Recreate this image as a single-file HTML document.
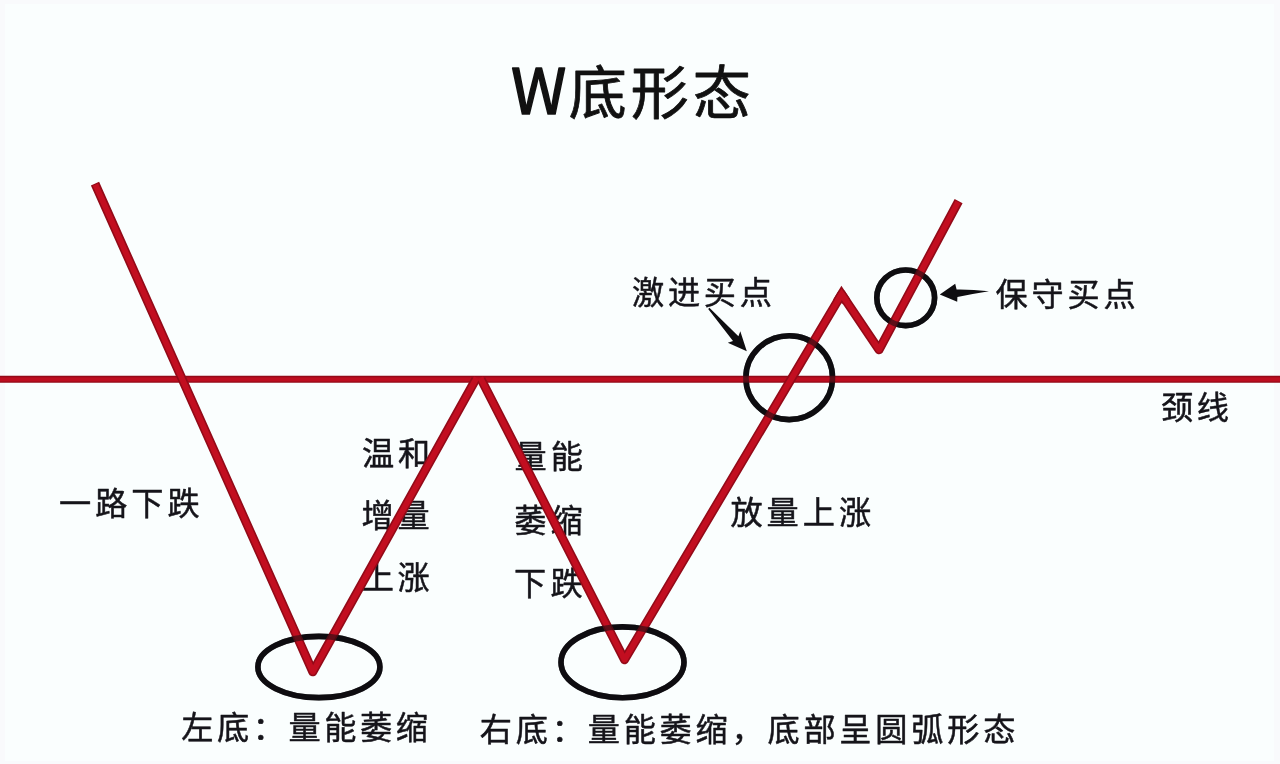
<!DOCTYPE html>
<html lang="zh-CN">
<head>
<meta charset="utf-8">
<title>W底形态</title>
<style>
html,body{margin:0;padding:0;background:#fafdfe;overflow:hidden;}
body{width:1280px;height:764px;position:relative;}
svg{position:absolute;left:0;top:0;display:block;filter:blur(0.55px);}
text{font-family:"Liberation Sans","Noto Sans CJK SC",sans-serif;fill:#15141a;}
.t{font-size:32.2px;letter-spacing:3.5px;stroke:#15141a;stroke-width:0.5px;stroke-linejoin:round;}
.title{font-family:"Noto Sans CJK SC","Liberation Sans",sans-serif;font-weight:400;font-size:58px;letter-spacing:4px;fill:#111;stroke:#111;stroke-width:0.8px;stroke-linejoin:round;}
.title .w{font-size:63px;letter-spacing:2.5px;stroke-width:1.5px;}
</style>
</head>
<body>
<svg width="1280" height="764" viewBox="0 0 1280 764">
  <rect x="-4" y="-4" width="1288" height="772" fill="#f9fafc"/>
  <rect x="5" y="4" width="1269" height="757" fill="#fafefe"/>

  <!-- labels (drawn beneath the red lines) -->
  <g id="labels">
    <text id="title" class="title" x="511" y="114.2"><tspan class="w">W</tspan>底形态</text>
    <text id="l1" class="t" x="59.00" y="515.20" style="letter-spacing:4.00px">一路下跌</text>
    <text id="l2a" class="t" x="362.10" y="465.40" style="letter-spacing:3.60px">温和</text>
    <text id="l2b" class="t" x="361.60" y="527.20" style="letter-spacing:3.60px">增量</text>
    <text id="l2c" class="t" x="361.80" y="589.40" style="letter-spacing:3.60px">上涨</text>
    <text id="l3a" class="t" x="514.40" y="468.00" style="letter-spacing:4.10px">量能</text>
    <text id="l3b" class="t" x="514.20" y="532.00" style="letter-spacing:4.10px">萎缩</text>
    <text id="l3c" class="t" x="514.10" y="595.40" style="letter-spacing:4.10px">下跌</text>
    <text id="l4" class="t" x="730.40" y="524.10" style="letter-spacing:3.99px">放量上涨</text>
    <text id="l5" class="t" x="632.00" y="304.43" style="letter-spacing:3.74px">激进买点</text>
    <text id="l6" class="t" x="995.50" y="306.12" style="letter-spacing:3.83px">保守买点</text>
    <text id="l7" class="t" x="1161.00" y="419.00" style="letter-spacing:3.50px">颈线</text>
    <text id="l8" class="t" x="181.20" y="739.00" style="letter-spacing:3.56px">左底：量能萎缩</text>
    <text id="l9" class="t" x="479.80" y="740.70" style="letter-spacing:3.77px">右底：量能萎缩，底部呈圆弧形态</text>
  </g>

  <!-- ellipses / circles -->
  <g id="rings" fill="none" stroke="#0e0d10" stroke-width="5.6">
    <ellipse cx="318.9" cy="667" rx="61" ry="30.6"/>
    <ellipse cx="622.5" cy="662.3" rx="61.5" ry="35.4"/>
    <ellipse cx="789.2" cy="377.7" rx="43.3" ry="41.9"/>
    <ellipse cx="905.7" cy="297.8" rx="28.9" ry="27.8"/>
  </g>

  <!-- neckline -->
  <g id="neck">
    <line x1="0" y1="379.3" x2="1280" y2="379.3" stroke="#930a18" stroke-width="7"/>
    <line x1="0" y1="379.3" x2="1280" y2="379.3" stroke="#bd0d1f" stroke-width="4.2"/>
  </g>

  <!-- W price path -->
  <g id="wline" fill="none" stroke-linecap="butt" stroke-linejoin="round">
    <g stroke="#930a18" stroke-width="9">
      <polyline points="95,183.7 312.8,671.8 475.8,379.3"/>
      <polyline points="481.1,379.3 624.5,659.7 841.6,294.2 879,349.8 958.6,201.1"/>
      <polyline points="837.0,301.9 841.6,294.2 846.6,301.7" stroke-linejoin="miter" stroke-miterlimit="10"/>
    </g>
    <g stroke="#c20e20" stroke-width="5.8">
      <polyline points="95.4,184.6 312.8,671.8 476.6,377.9"/>
      <polyline points="480.4,377.9 624.5,659.7 841.6,294.2 879,349.8 958.1,202"/>
      <polyline points="837.0,301.9 841.6,294.2 846.6,301.7" stroke-linejoin="miter" stroke-miterlimit="10"/>
    </g>
  </g>

  <!-- rings re-drawn translucent so crossings look blended -->
  <g id="rings2" fill="none" stroke="#0e0d10" stroke-width="5.6" opacity="0.55">
    <ellipse cx="318.9" cy="667" rx="61" ry="30.6"/>
    <ellipse cx="622.5" cy="662.3" rx="61.5" ry="35.4"/>
    <ellipse cx="789.2" cy="377.7" rx="43.3" ry="41.9"/>
    <ellipse cx="905.7" cy="297.8" rx="28.9" ry="27.8"/>
  </g>

  <!-- arrows -->
  <g id="arrows" fill="#0e0d10" stroke="none">
    <path d="M746.8,351.2 L727.8,342.7 L733,341 L708.2,308.9 L709.4,307.7 L738.4,336.2 L740.3,331.2 Z"/>
    <path d="M939.8,294.5 L955.2,283.7 L956.6,289.6 Q972,289.4 989,291.3 Q972,294 957.4,297 L957.2,301.8 Z"/>
  </g>
</svg>
</body>
</html>
